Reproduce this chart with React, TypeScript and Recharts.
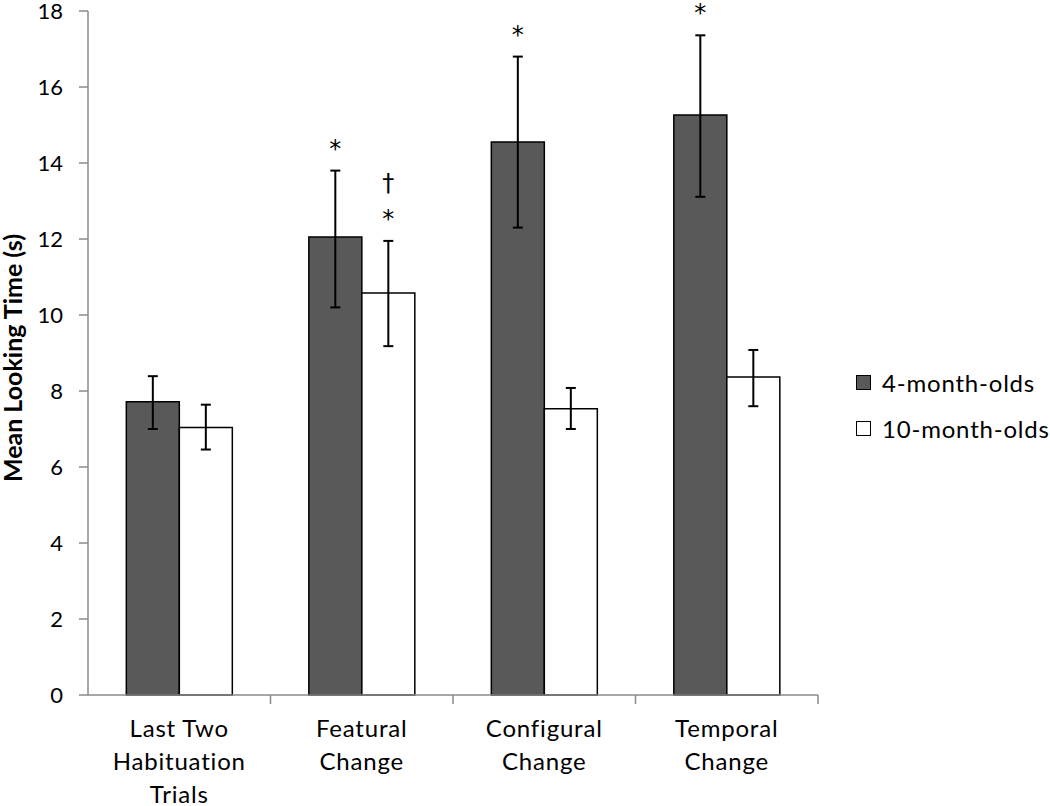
import { BarChart, Bar, XAxis, YAxis, ErrorBar, LabelList } from "recharts";

const categories = ["Last Two Habituation Trials", "Featural Change", "Configural Change", "Temporal Change"];
const categoryLines = [["Last Two", "Habituation", "Trials"], ["Featural", "Change"], ["Configural", "Change"], ["Temporal", "Change"]];

const fourMonth = [7.72, 12.05, 14.55, 15.26];
const fourMonthErr = [[0.72, 0.67], [1.85, 1.75], [2.25, 2.25], [2.15, 2.1]];
const fourMonthSig = [[], ["*"], ["*"], ["*"]];

const tenMonth = [7.04, 10.58, 7.53, 8.37];
const tenMonthErr = [[0.58, 0.6], [1.4, 1.37], [0.53, 0.55], [0.77, 0.71]];
const tenMonthSig = [[], ["*", "†"], [], []];

const yTicks = [0, 2, 4, 6, 8, 10, 12, 14, 16, 18];

const seriesNames = ["4-month-olds", "10-month-olds"];

const data = categories.map((name, i) => ({
  name,
  m4: fourMonth[i],
  m4err: fourMonthErr[i],
  m10: tenMonth[i],
  m10err: tenMonthErr[i],
}));

const FONT = "Lato, 'Open Sans', sans-serif";
const DARK = "#595959";
const AXIS = "#8a8a8a";

function CategoryTick(props: any) {
  const { x, y, payload, index } = props;
  const off = payload?.offset ?? 91;
  const lines = categoryLines[index] ?? [String(payload.value)];
  return (
    <g>
      <line x1={x + off} y1={y} x2={x + off} y2={y + 9} stroke={AXIS} strokeWidth={1.5} />
      <text x={x} y={y} textAnchor="middle" fontFamily={FONT} fontSize={24} fill="#000" letterSpacing={0.8}>
        {lines.map((l, i) => (
          <tspan key={i} x={x} y={y + 42 + i * 33}>
            {l}
          </tspan>
        ))}
      </text>
    </g>
  );
}

function makeSig(values: number[], errs: number[][], sigs: string[][]) {
  return (props: any) => {
    const { x, y, width, height, index } = props;
    const marks = sigs[index];
    if (!marks || marks.length === 0) return null;
    const v = values[index];
    const px = height / v;
    const errTop = y + height - (v + errs[index][1]) * px;
    const cx = x + width / 2;
    return (
      <g>
        {marks.map((m, i) => (
          <text
            key={i}
            x={cx}
            y={errTop - 29 - i * 36 + 15}
            textAnchor="middle"
            fontFamily="'DejaVu Sans', sans-serif"
            fontSize={24}
            fill="#000"
          >
            {m}
          </text>
        ))}
      </g>
    );
  };
}

function YLabel(props: any) {
  const vb = props.viewBox || {};
  const cy = (vb.y ?? 11) + (vb.height ?? 684) / 2 + 5;
  const cx = 12;
  return (
    <text
      x={cx}
      y={cy}
      transform={`rotate(-90 ${cx} ${cy})`}
      textAnchor="middle"
      dominantBaseline="central"
      fontFamily={FONT}
      fontWeight="bold"
      fontSize={25}
      fill="#000"
    >
      Mean Looking Time (s)
    </text>
  );
}

function LegendBox() {
  const fills = [DARK, "#fff"];
  return (
    <div style={{ position: "absolute", left: 856, top: 359, fontFamily: FONT, fontSize: 24, color: "#000" }}>
      {seriesNames.map((label, i) => (
        <div key={label} style={{ display: "flex", alignItems: "center", height: 46 }}>
          <div style={{ width: 13, height: 13, border: "1.5px solid #000", background: fills[i], marginRight: 11 }} />
          <span style={{ letterSpacing: 0.8, whiteSpace: "nowrap" }}>{label}</span>
        </div>
      ))}
    </div>
  );
}

export default function App() {
  return (
    <div style={{ position: "absolute", left: 0, top: 0, width: 1050, height: 806, background: "#fff" }}>
      <BarChart
        width={1050}
        height={806}
        data={data}
        margin={{ top: 11, right: 232, bottom: 0, left: 10 }}
        barCategoryGap="21%"
        barGap={0}
      >
        <XAxis
          dataKey="name"
          interval={0}
          height={111}
          tickLine={false}
          tickSize={0}
          tickMargin={0}
          axisLine={{ stroke: AXIS, strokeWidth: 1.5 }}
          tick={<CategoryTick />}
        />
        <YAxis
          domain={[0, 18]}
          ticks={yTicks}
          interval={0}
          width={78}
          tickSize={9}
          tickMargin={16}
          axisLine={{ stroke: AXIS, strokeWidth: 1.5 }}
          tickLine={{ stroke: AXIS, strokeWidth: 1.5 }}
          tick={{ fontSize: 22, fill: "#000", fontFamily: FONT }}
          label={YLabel}
        />
        <Bar dataKey="m4" name={seriesNames[0]} fill={DARK} stroke="#000" strokeWidth={1.5} isAnimationActive={false}>
          <ErrorBar dataKey="m4err" width={5} stroke="#000" strokeWidth={2} direction="y" />
          <LabelList dataKey="m4" content={makeSig(fourMonth, fourMonthErr, fourMonthSig)} />
        </Bar>
        <Bar dataKey="m10" name={seriesNames[1]} fill="#fff" stroke="#000" strokeWidth={1.5} isAnimationActive={false}>
          <ErrorBar dataKey="m10err" width={5} stroke="#000" strokeWidth={2} direction="y" />
          <LabelList dataKey="m10" content={makeSig(tenMonth, tenMonthErr, tenMonthSig)} />
        </Bar>
      </BarChart>
      <LegendBox />
    </div>
  );
}
